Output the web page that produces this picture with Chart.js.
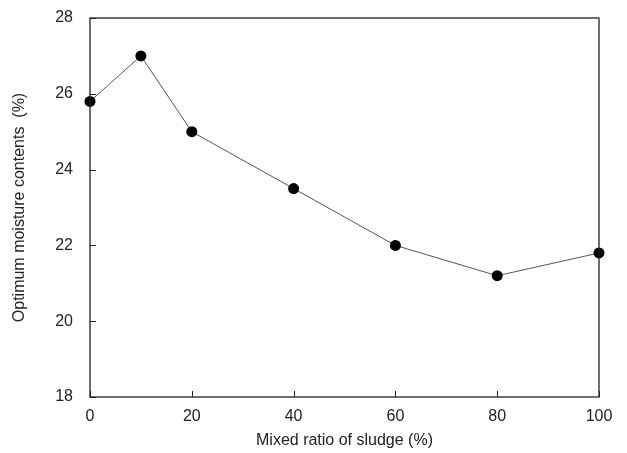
<!DOCTYPE html>
<html><head><meta charset="utf-8">
<script src="https://cdn.jsdelivr.net/npm/chart.js@4.4.0/dist/chart.umd.min.js"></script>
<style>html,body{margin:0;padding:0;background:#fff;}#wrap{width:627px;height:453px;}</style>
</head><body><div id="wrap"><canvas id="c" width="627" height="453"></canvas></div>
<script>
const mixedRatio = [0, 10, 20, 40, 60, 80, 100];
const moisture = [25.8, 27.0, 25.0, 23.5, 22.0, 21.2, 21.8];
const xTicks = [0, 20, 40, 60, 80, 100];
const yTicks = [18, 20, 22, 24, 26, 28];

const frame = {
  id: 'frame',
  afterDraw(chart) {
    const {ctx, chartArea: a, scales} = chart;
    ctx.save();
    ctx.strokeStyle = '#222';
    ctx.lineWidth = 1.3;
    ctx.strokeRect(a.left, a.top, a.right - a.left, a.bottom - a.top);
    ctx.lineWidth = 1;
    ctx.beginPath();
    xTicks.forEach(v => { const x = Math.round(scales.x.getPixelForValue(v)) + 0.5; ctx.moveTo(x, a.bottom); ctx.lineTo(x, a.bottom - 6); });
    yTicks.forEach(v => { const y = Math.round(scales.y.getPixelForValue(v)) + 0.5; ctx.moveTo(a.left, y); ctx.lineTo(a.left + 6, y); });
    ctx.stroke();
    ctx.restore();
  }
};

new Chart(document.getElementById('c'), {
  type: 'line',
  data: { datasets: [{
    data: mixedRatio.map((x, i) => ({x, y: moisture[i]})),
    borderColor: '#555', borderWidth: 1,
    pointBackgroundColor: '#000', pointBorderColor: '#000', pointRadius: 5.5, pointBorderWidth: 0,
    tension: 0, clip: false
  }]},
  options: {
    responsive: false, animation: false,
    plugins: { legend: {display: false}, tooltip: {enabled: false} },
    layout: { padding: {top: 18, right: 28, left: 0, bottom: 0} },
    scales: {
      x: {
        type: 'linear', min: 0, max: 100,
        afterBuildTicks(s) { s.ticks = xTicks.map(v => ({value: v})); },
        afterFit(s) { s.height = 56; s.paddingLeft = 0; s.paddingRight = 0; },
        grid: {display: false, drawTicks: false},
        border: {display: false},
        ticks: {padding: 10, color: '#222', font: {family: 'Liberation Sans, Arial', size: 16}, maxRotation: 0},
        title: {display: true, text: 'Mixed ratio of sludge (%)', color: '#222', font: {family: 'Liberation Sans, Arial', size: 16}, padding: {top: 2, bottom: 3}}
      },
      y: {
        type: 'linear', min: 18, max: 28,
        afterBuildTicks(s) { s.ticks = yTicks.map(v => ({value: v})); },
        afterFit(s) { s.width = 90; s.paddingTop = 0; s.paddingBottom = 0; },
        grid: {display: false, drawTicks: false},
        border: {display: false},
        ticks: {padding: 17, color: '#222', font: {family: 'Liberation Sans, Arial', size: 16}},
        title: {display: true, text: 'Optimum moisture contents  (%)', color: '#222', font: {family: 'Liberation Sans, Arial', size: 16}, padding: {top: 10, bottom: 0}}
      }
    }
  },
  plugins: [frame]
});
</script></body></html>
